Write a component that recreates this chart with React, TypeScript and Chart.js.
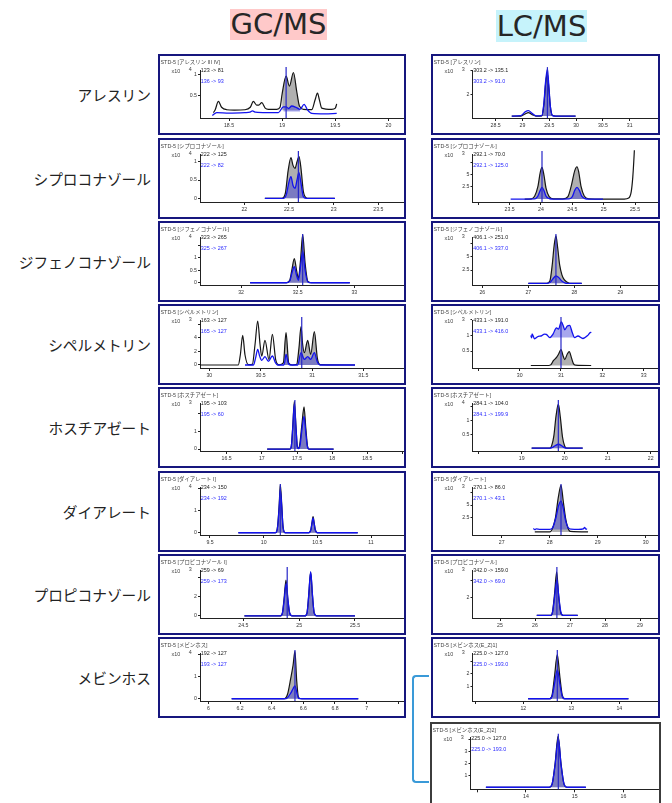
import React, { useEffect, useRef } from 'react';
import { Chart, registerables } from 'chart.js';

Chart.register(...registerables);

type Pt = [number, number];
type Tick = [number, string];

// ---------- row labels & texts ----------
const compoundNames = ['アレスリン', 'シプロコナゾール', 'ジフェノコナゾール', 'シペルメトリン', 'ホスチアゼート', 'ダイアレート', 'プロピコナゾール', 'メビンホス'];

const gcTitles = ['STD-5 [アレスリン III IV]', 'STD-5 [シプロコナゾール]', 'STD-5 [ジフェノコナゾール]', 'STD-5 [シペルメトリン]', 'STD-5 [ホスチアゼート]', 'STD-5 [ダイアレート I]', 'STD-5 [プロピコナゾール I]', 'STD-5 [メビンホス]'];
const gcExponents = ['4', '4', '4', '3', '3', '4', '3', '4'];
const gcLegendBlack = ['123 -> 81', '222 -> 125', '323 -> 265', '163 -> 127', '195 -> 103', '234 -> 150', '259 -> 69', '192 -> 127'];
const gcLegendBlue = ['136 -> 93', '222 -> 82', '325 -> 267', '165 -> 127', '195 -> 60', '234 -> 192', '259 -> 173', '193 -> 127'];
const gcRetention = [19.037, 22.605, 32.544, 30.9, 17.47, 10.155, 24.893, 6.547];

const lcTitles = ['STD-5 [アレスリン]', 'STD-5 [シプロコナゾール]', 'STD-5 [ジフェノコナゾール]', 'STD-5 [シペルメトリン]', 'STD-5 [ホスチアゼート]', 'STD-5 [ダイアレート]', 'STD-5 [プロピコナゾール]', 'STD-5 [メビンホス(E_Z)1]', 'STD-5 [メビンホス(E_Z)2]'];
const lcExponents = ['3', '3', '3', '3', '4', '3', '3', '3', '3'];
const lcLegendBlack = ['303.2 -> 135.1', '292.1 -> 70.0', '406.1 -> 251.0', '433.1 -> 191.0', '284.1 -> 104.0', '270.1 -> 86.0', '342.0 -> 159.0', '225.0 -> 127.0', '225.0 -> 127.0'];
const lcLegendBlue = ['303.2 -> 91.0', '292.1 -> 125.0', '406.1 -> 337.0', '433.1 -> 416.0', '284.1 -> 199.9', '270.1 -> 43.1', '342.0 -> 69.0', '225.0 -> 193.0', '225.0 -> 193.0'];
const lcRetention = [29.465, 24.016, 27.6, 31.0, 19.853, 28.236, 26.625, 12.708, 14.665];

// ---------- GC/MS data ----------
const gc1Black: Pt[] = [[18.353,0.09],[18.37,0.16],[18.40,0.36],[18.43,0.22],[18.478,0.16],[18.55,0.15],[18.65,0.16],[18.70,0.22],[18.729,0.36],[18.76,0.27],[18.78,0.27],[18.808,0.33],[18.84,0.2],[18.87,0.17],[18.95,0.17],[18.98,0.22],[19.0,0.55],[19.037,0.97],[19.068,0.73],[19.106,1.06],[19.137,0.6],[19.162,0.25],[19.2,0.17],[19.278,0.16],[19.31,0.4],[19.332,0.56],[19.35,0.4],[19.372,0.2],[19.466,0.17],[19.5,0.2],[19.513,0.3]];
const gc1Blue: Pt[] = [[18.343,0.02],[18.384,0.09],[18.5,0.08],[18.65,0.09],[18.698,0.1],[18.72,0.13],[18.75,0.1],[18.85,0.09],[18.964,0.09],[19.011,0.23],[19.037,0.23],[19.06,0.19],[19.09,0.25],[19.135,0.21],[19.168,0.17],[19.206,0.29],[19.24,0.15],[19.278,0.07],[19.4,0.06],[19.513,0.07]];
const gc1XTicks: Tick[] = [[18.5,'18.5'],[19,'19'],[19.5,'19.5'],[20,'20']];
const gc1YTicks: Tick[] = [[0.5,'0.5'],[1,'1']];

const gc2Black: Pt[] = [[22.23,0],[22.42,0],[22.46,0.15],[22.49,0.75],[22.522,1.11],[22.545,0.9],[22.567,0.82],[22.59,1.0],[22.612,1.14],[22.635,0.8],[22.66,0.2],[22.69,0.02],[22.72,0],[23.01,0]];
const gc2Blue: Pt[] = [[22.23,0],[22.44,0],[22.47,0.1],[22.50,0.45],[22.522,0.59],[22.545,0.35],[22.567,0.27],[22.59,0.5],[22.61,0.71],[22.635,0.4],[22.66,0.05],[22.69,0],[23.015,0]];
const gc2XTicks: Tick[] = [[22,'22'],[22.5,'22.5'],[23,'23'],[23.5,'23.5']];
const gc2YTicks: Tick[] = [[0,'0'],[0.5,'0.5'],[1,'1']];

const gc3Black: Pt[] = [[32.08,0],[32.40,0],[32.43,0.1],[32.45,0.55],[32.47,0.97],[32.49,0.5],[32.506,0.17],[32.525,0.9],[32.544,1.93],[32.565,0.8],[32.59,0.05],[32.62,0],[32.96,0]];
const gc3Blue: Pt[] = [[32.08,0],[32.40,0],[32.43,0.07],[32.45,0.4],[32.47,0.64],[32.49,0.3],[32.506,0.1],[32.525,0.65],[32.544,1.27],[32.565,0.5],[32.59,0.03],[32.62,0],[32.96,0]];
const gc3XTicks: Tick[] = [[32,'32'],[32.5,'32.5'],[33,'33']];
const gc3YTicks: Tick[] = [[0,'0'],[0.5,'0.5'],[1,'1'],[1.5,'']];

const gc4Black: Pt[] = [[29.909,0],[30.282,0],[30.302,1.5],[30.325,4.34],[30.347,1.5],[30.38,0.05],[30.419,0.1],[30.445,3.0],[30.471,6.44],[30.494,3.0],[30.51,1.3],[30.542,3.61],[30.581,0.8],[30.614,4.49],[30.646,0.8],[30.68,0.02],[30.721,0.3],[30.747,4.73],[30.773,0.3],[30.808,0],[30.851,0.1],[30.873,2.5],[30.893,5.61],[30.909,3.0],[30.925,1.8],[30.958,3.61],[30.987,1.56],[31.023,4.88],[31.052,1.0],[31.078,0.05],[31.419,0]];
const gc4Blue: Pt[] = [[30.347,0],[30.43,0],[30.45,1.0],[30.471,2.3],[30.49,1.3],[30.51,0.68],[30.542,1.22],[30.575,0.54],[30.614,1.32],[30.645,0.3],[30.665,0],[30.725,0],[30.735,0.5],[30.747,1.56],[30.77,0.2],[30.79,0],[30.86,0],[30.893,1.8],[30.925,0.83],[30.958,1.22],[30.987,0.83],[31.023,1.8],[31.05,0.5],[31.078,0],[31.419,0]];
const gc4XTicks: Tick[] = [[30,'30'],[30.5,'30.5'],[31,'31'],[31.5,'31.5']];
const gc4YTicks: Tick[] = [[0,'0'],[2,'2'],[4,'4'],[6,'']];

const gc5Black: Pt[] = [[17.076,0],[17.40,0],[17.42,0.2],[17.44,1.3],[17.462,2.7],[17.485,1.3],[17.505,0.15],[17.52,0.05],[17.54,0.3],[17.57,1.4],[17.60,2.38],[17.625,1.2],[17.65,0.15],[17.67,0],[18.02,0]];
const gc5Blue: Pt[] = [[17.076,0],[17.40,0],[17.42,0.18],[17.44,1.2],[17.462,2.55],[17.485,1.2],[17.505,0.1],[17.525,0.02],[17.545,0.25],[17.57,1.1],[17.60,1.85],[17.625,0.9],[17.65,0.1],[17.67,0],[18.02,0]];
const gc5XTicks: Tick[] = [[16.5,'16.5'],[17,'17'],[17.5,'17.5'],[18,'18'],[18.5,'18.5'],[19,'']];
const gc5YTicks: Tick[] = [[0,'0'],[1,'1'],[2,'']];

const gc6Black: Pt[] = [[9.764,0],[10.11,0],[10.13,0.3],[10.145,1.3],[10.155,2.16],[10.168,1.3],[10.18,0.3],[10.20,0],[10.42,0],[10.44,0.15],[10.45,0.45],[10.46,0.72],[10.47,0.45],[10.48,0.15],[10.50,0],[10.876,0]];
const gc6Blue: Pt[] = [[9.764,0],[10.11,0],[10.13,0.27],[10.145,1.17],[10.155,1.95],[10.168,1.17],[10.18,0.27],[10.20,0],[10.42,0],[10.44,0.14],[10.45,0.42],[10.46,0.67],[10.47,0.42],[10.48,0.14],[10.50,0],[10.876,0]];
const gc6XTicks: Tick[] = [[9.5,'9.5'],[10,'10'],[10.5,'10.5'],[11,'11']];
const gc6YTicks: Tick[] = [[0,'0'],[1,'1'],[2,'']];

const gc7Black: Pt[] = [[24.51,0],[24.83,0],[24.85,0.3],[24.865,1.8],[24.882,3.72],[24.898,1.8],[24.915,0.3],[24.94,0],[25.05,0],[25.07,0.3],[25.085,2.0],[25.103,4.55],[25.12,2.0],[25.135,0.3],[25.16,0],[25.5,0]];
const gc7Blue: Pt[] = [[24.51,0],[24.83,0],[24.85,0.28],[24.866,1.65],[24.884,3.38],[24.90,1.65],[24.916,0.28],[24.94,0],[25.05,0],[25.07,0.3],[25.085,2.05],[25.103,4.59],[25.12,2.05],[25.135,0.3],[25.16,0],[25.5,0]];
const gc7XTicks: Tick[] = [[24.5,'24.5'],[25,'25'],[25.5,'25.5']];
const gc7YTicks: Tick[] = [[0,'0'],[2,'2'],[4,'']];

const gc8Black: Pt[] = [[6.147,0],[6.48,0],[6.50,0.2],[6.52,0.9],[6.535,1.5],[6.547,2.12],[6.558,0.8],[6.57,0.05],[6.59,0],[6.947,0]];
const gc8Blue: Pt[] = [[6.147,0],[6.48,0],[6.50,0.05],[6.52,0.25],[6.535,0.45],[6.547,0.58],[6.558,0.3],[6.57,0.02],[6.59,0],[6.947,0]];
const gc8XTicks: Tick[] = [[6,'6'],[6.2,'6.2'],[6.4,'6.4'],[6.6,'6.6'],[6.8,'6.8'],[7,'7'],[7.2,'']];
const gc8YTicks: Tick[] = [[0,'0'],[1,'1'],[2,'']];

// ---------- LC/MS data ----------
const lc1Black: Pt[] = [[28.8,1.11],[28.97,1.11],[29.05,1.2],[29.11,1.25],[29.18,1.17],[29.25,1.11],[29.36,1.12],[29.40,1.6],[29.43,2.4],[29.462,2.86],[29.49,2.3],[29.52,1.5],[29.56,1.13],[29.62,1.11],[29.99,1.11]];
const lc1Blue: Pt[] = [[28.8,1.11],[28.97,1.13],[29.05,1.28],[29.11,1.33],[29.18,1.22],[29.25,1.12],[29.36,1.13],[29.40,1.65],[29.43,2.5],[29.465,3.02],[29.49,2.4],[29.52,1.5],[29.56,1.13],[29.62,1.11],[29.99,1.11]];
const lc1XTicks: Tick[] = [[28.5,'28.5'],[29,'29'],[29.5,'29.5'],[30,'30'],[30.5,'30.5'],[31,'31']];
const lc1YTicks: Tick[] = [[2,'2'],[3,'']];

const lc2Black: Pt[] = [[23.74,0],[23.85,0.05],[23.90,0.6],[23.95,2.5],[23.99,5.5],[24.016,6.42],[24.045,5.0],[24.08,2.2],[24.13,0.5],[24.2,0.05],[24.35,0.03],[24.43,0.5],[24.48,2.5],[24.54,5.8],[24.574,6.55],[24.60,5.6],[24.64,2.5],[24.69,0.6],[24.76,0.05],[25.0,0],[25.33,0],[25.40,0.2],[25.44,1.5],[25.465,4.5],[25.48,7.5],[25.49,9.9]];
const lc2Blue: Pt[] = [[23.516,0],[23.9,0.05],[23.95,0.6],[23.99,1.8],[24.016,2.36],[24.045,1.8],[24.08,0.6],[24.13,0.1],[24.2,0],[24.45,0.05],[24.50,0.5],[24.54,1.8],[24.574,2.36],[24.61,1.8],[24.65,0.6],[24.70,0.1],[24.76,0],[24.99,0]];
const lc2XTicks: Tick[] = [[23,''],[23.5,'23.5'],[24,'24'],[24.5,'24.5'],[25,'25'],[25.5,'25.5']];
const lc2YTicks: Tick[] = [[2.5,'2.5'],[5,'5'],[7.5,'']];

const lc3Black: Pt[] = [[27.0,0],[27.40,0],[27.47,0.5],[27.52,3.5],[27.56,7.0],[27.60,8.9],[27.64,6.5],[27.68,3.5],[27.73,1.6],[27.78,0.7],[27.85,0.2],[27.9,0],[28.16,0]];
const lc3Blue: Pt[] = [[27.0,0],[27.40,0],[27.47,0.15],[27.53,0.8],[27.60,1.375],[27.66,1.1],[27.72,0.5],[27.78,0.15],[27.85,0],[28.16,0]];
const lc3XTicks: Tick[] = [[26,'26'],[27,'27'],[28,'28'],[29,'29']];
const lc3YTicks: Tick[] = [[2.5,'2.5'],[5,'5'],[7.5,'']];

const lc4Black: Pt[] = [[30.27,0.04],[30.70,0.04],[30.75,0.06],[30.82,0.2],[30.887,0.29],[30.94,0.4],[31.0,0.55],[31.05,0.35],[31.09,0.23],[31.15,0.4],[31.2,0.48],[31.25,0.3],[31.30,0.1],[31.35,0.05],[31.73,0.04]];
const lc4Blue: Pt[] = [[30.27,1.0],[30.29,0.92],[30.30,1.05],[30.36,0.89],[30.45,0.97],[30.52,0.98],[30.60,1.04],[30.645,1.03],[30.73,0.93],[30.81,1.05],[30.89,1.24],[30.94,1.2],[31.008,1.43],[31.06,1.28],[31.09,1.18],[31.153,1.30],[31.21,1.32],[31.27,1.1],[31.33,0.93],[31.41,0.98],[31.53,0.9],[31.65,1.0],[31.70,1.08],[31.734,1.1]];
const lc4XTicks: Tick[] = [[29,''],[30,'30'],[31,'31'],[32,'32'],[33,'33']];
const lc4YTicks: Tick[] = [[0.5,'0.5'],[1,'1'],[1.5,'']];

const lc5Black: Pt[] = [[19.233,0],[19.66,0],[19.70,0.1],[19.75,0.45],[19.80,1.15],[19.853,1.57],[19.90,1.1],[19.95,0.4],[20.0,0.08],[20.05,0],[20.419,0]];
const lc5Blue: Pt[] = [[19.233,0],[19.65,0],[19.72,0.03],[19.79,0.1],[19.853,0.14],[19.92,0.1],[19.98,0.03],[20.05,0],[20.419,0]];
const lc5XTicks: Tick[] = [[18,''],[19,'19'],[20,'20'],[21,'21'],[22,'22']];
const lc5YTicks: Tick[] = [[0.5,'0.5'],[1,'1'],[1.5,'']];

const lc6Black: Pt[] = [[27.69,-0.3],[28.0,-0.3],[28.05,0.2],[28.12,2.5],[28.18,6.5],[28.236,8.9],[28.28,6.0],[28.33,2.5],[28.38,0.5],[28.43,-0.2],[28.80,-0.3]];
const lc6Blue: Pt[] = [[27.66,0.4],[27.69,0.15],[27.72,0.3],[27.80,0.2],[28.0,0.2],[28.06,0.5],[28.13,2.5],[28.19,5.0],[28.236,5.79],[28.28,4.5],[28.33,2.0],[28.39,0.5],[28.45,0.25],[28.6,0.2],[28.70,0.3],[28.73,0.6],[28.75,0.3],[28.78,0.25]];
const lc6XTicks: Tick[] = [[27,'27'],[28,'28'],[29,'29'],[30,'30']];
const lc6YTicks: Tick[] = [[2.5,'2.5'],[5,'5'],[7.5,'']];

const lc7Black: Pt[] = [[26.05,0],[26.45,0],[26.50,0.4],[26.56,2.5],[26.619,4.94],[26.67,2.5],[26.73,0.4],[26.80,0],[27.22,0]];
const lc7Blue: Pt[] = [[26.05,0],[26.45,0],[26.50,0.35],[26.56,2.1],[26.625,4.08],[26.68,2.1],[26.74,0.35],[26.80,0],[27.22,0]];
const lc7XTicks: Tick[] = [[25,'25'],[26,'26'],[27,'27'],[28,'28'],[29,'29']];
const lc7YTicks: Tick[] = [[2,'2'],[4,'']];

const lc8Black: Pt[] = [[12.1,0],[12.55,0],[12.6,0.3],[12.65,1.8],[12.708,3.53],[12.76,1.8],[12.81,0.3],[12.86,0],[14.19,0]];
const lc8Blue: Pt[] = [[12.1,0],[12.55,0],[12.6,0.2],[12.65,1.2],[12.71,2.33],[12.76,1.2],[12.81,0.2],[12.86,0],[14.19,0]];
const lc8XTicks: Tick[] = [[11,''],[12,'12'],[13,'13'],[14,'14']];
const lc8YTicks: Tick[] = [[1,'1'],[2,'2'],[3,'']];

const lc9Black: Pt[] = [[13.18,0],[14.48,0],[14.54,0.3],[14.60,2.0],[14.66,4.27],[14.72,2.0],[14.78,0.3],[14.84,0],[15.23,0]];
const lc9Blue: Pt[] = [[13.18,0],[14.48,0],[14.54,0.3],[14.60,1.9],[14.665,4.1],[14.72,1.9],[14.78,0.3],[14.84,0],[15.23,0]];
const lc9XTicks: Tick[] = [[13,''],[14,'14'],[15,'15'],[16,'16']];
const lc9YTicks: Tick[] = [[1,'1'],[2,'2'],[3,'3'],[4,'']];

// ---------- styles ----------
const FONT_SMALL = "'Liberation Sans', Arial, 'Noto Sans CJK JP', sans-serif";
const BLACK = '#151515';
const BLUE = '#1212ee';
const MARK = '#2626c8';
const GRAY_FILL = 'rgba(150,150,150,0.75)';
const BLUE_FILL = 'rgba(60,60,215,0.45)';
const AXIS = '#222';
const TICK_COLOR = '#333';
const NAVY = '#16167e';

interface PanelDef {
  left: number; top: number; w: number; h: number; border: string;
  title: string; exp: string; leg1: string; leg2: string;
  black: Pt[]; blue: Pt[]; xTicks: Tick[]; yTicks: Tick[];
  xMin: number; xMax: number; yMin: number; yMax: number; rt: number;
  fill: [number, number]; baseBlack: number; baseBlue: number;
  axisLeft: number; chartTop: number; chartBottom: number;
}

const rowTops = [54, 138, 221, 304, 387, 471, 554, 637];

const gcSeries: [Pt[], Pt[], Tick[], Tick[]][] = [
  [gc1Black, gc1Blue, gc1XTicks, gc1YTicks],
  [gc2Black, gc2Blue, gc2XTicks, gc2YTicks],
  [gc3Black, gc3Blue, gc3XTicks, gc3YTicks],
  [gc4Black, gc4Blue, gc4XTicks, gc4YTicks],
  [gc5Black, gc5Blue, gc5XTicks, gc5YTicks],
  [gc6Black, gc6Blue, gc6XTicks, gc6YTicks],
  [gc7Black, gc7Blue, gc7XTicks, gc7YTicks],
  [gc8Black, gc8Blue, gc8XTicks, gc8YTicks],
];
// axis ranges: [xMin, xMax, yMin, yMax]
const gcRanges = [
  [18.227, 20.146, -0.04, 1.12],
  [21.504, 23.787, -0.10, 1.21],
  [31.638, 33.438, -0.09, 1.83],
  [29.909, 31.896, -0.44, 6.59],
  [16.121, 19.021, -0.11, 2.6],
  [9.407, 11.307, -0.10, 2.05],
  [24.112, 25.939, -0.21, 4.76],
  [5.947, 7.236, -0.10, 2.05],
];
// integrated regions: [from, to, black baseline, blue baseline]
const gcFills = [
  [18.99, 19.17, 0.15, 0.12],
  [22.42, 22.70, 0, 0],
  [32.40, 32.62, 0, 0],
  [30.70, 31.08, 0, 0],
  [17.40, 17.67, 0, 0],
  [10.10, 10.51, 0, 0],
  [24.83, 25.16, 0, 0],
  [6.48, 6.59, 0, 0],
];

const lcSeries: [Pt[], Pt[], Tick[], Tick[]][] = [
  [lc1Black, lc1Blue, lc1XTicks, lc1YTicks],
  [lc2Black, lc2Blue, lc2XTicks, lc2YTicks],
  [lc3Black, lc3Blue, lc3XTicks, lc3YTicks],
  [lc4Black, lc4Blue, lc4XTicks, lc4YTicks],
  [lc5Black, lc5Blue, lc5XTicks, lc5YTicks],
  [lc6Black, lc6Blue, lc6XTicks, lc6YTicks],
  [lc7Black, lc7Blue, lc7XTicks, lc7YTicks],
  [lc8Black, lc8Blue, lc8XTicks, lc8YTicks],
  [lc9Black, lc9Blue, lc9XTicks, lc9YTicks],
];
const lcRanges = [
  [28.068, 31.527, 1.03, 3.0],
  [22.907, 25.867, -0.6, 9.13],
  [25.786, 29.819, -0.31, 8.69],
  [28.859, 33.347, -0.04, 1.49],
  [17.857, 22.171, -0.10, 1.61],
  [26.392, 30.257, -0.9, 8.56],
  [24.214, 29.514, -0.3, 5.14],
  [10.941, 14.806, -0.18, 3.66],
  [12.864, 16.73, -0.17, 4.19],
];
const lcFills = [
  [29.36, 29.56, 1.11, 1.11],
  [23.85, 24.78, 0, 0],
  [27.45, 27.90, 0, 0],
  [30.72, 31.35, 0.04, 0.93],
  [19.66, 20.05, 0, 0],
  [28.02, 28.43, -0.3, 0.2],
  [26.45, 26.80, 0, 0],
  [12.55, 12.86, 0, 0],
  [14.48, 14.84, 0, 0],
];

const panels: PanelDef[] = [];
gcSeries.forEach((s, i) => {
  const r = gcRanges[i], f = gcFills[i];
  panels.push({
    left: 158, top: rowTops[i], w: 248, h: 81, border: NAVY,
    title: gcTitles[i], exp: gcExponents[i], leg1: gcLegendBlack[i], leg2: gcLegendBlue[i],
    black: s[0], blue: s[1], xTicks: s[2], yTicks: s[3],
    xMin: r[0], xMax: r[1], yMin: r[2], yMax: r[3], rt: gcRetention[i],
    fill: [f[0], f[1]], baseBlack: f[2], baseBlue: f[3],
    axisLeft: 40, chartTop: 14, chartBottom: 62,
  });
});
lcSeries.forEach((s, i) => {
  const r = lcRanges[i], f = lcFills[i];
  const extra = i === 8;
  panels.push({
    left: extra ? 430 : 431, top: extra ? 722 : rowTops[i], w: extra ? 231 : 229, h: extra ? 90 : 81,
    border: extra ? '#3c3c3c' : NAVY,
    title: lcTitles[i], exp: lcExponents[i], leg1: lcLegendBlack[i], leg2: lcLegendBlue[i],
    black: s[0], blue: s[1], xTicks: s[2], yTicks: s[3],
    xMin: r[0], xMax: r[1], yMin: r[2], yMax: r[3], rt: lcRetention[i],
    fill: [f[0], f[1]], baseBlack: f[2], baseBlue: f[3],
    axisLeft: extra ? 38.5 : 39.5, chartTop: extra ? 13 : 14, chartBottom: extra ? 65.3 : 62,
  });
});

const tickLabel = (ticks: Tick[], v: number) => {
  const t = ticks.find(([tv]) => Math.abs(tv - v) < 1e-6);
  return t ? t[1] : '';
};

function ChromPanel({ def }: { def: PanelDef }) {
  const ref = useRef<HTMLCanvasElement | null>(null);
  const cw = def.w - 4;
  const ch = def.h - 4;
  useEffect(() => {
    const canvas = ref.current;
    if (!canvas) return;
    const toXY = (pts: Pt[]) => pts.map(([x, y]) => ({ x, y }));
    const inRange = (pts: Pt[]) => toXY(pts.filter(([x]) => x >= def.fill[0] && x <= def.fill[1]));
    const span = def.yMax - def.yMin;
    const base = { pointRadius: 0, cubicInterpolationMode: 'monotone' as const, tension: 0.3, clip: false as const };
    const tickFont = { size: 5.2, family: FONT_SMALL };
    const chart = new Chart(canvas, {
      type: 'line',
      data: {
        datasets: [
          { ...base, data: inRange(def.black), borderWidth: 1, borderColor: 'rgba(0,0,0,0)', backgroundColor: GRAY_FILL, fill: { value: def.baseBlack }, order: 5 },
          { ...base, data: inRange(def.blue), borderWidth: 1, borderColor: 'rgba(0,0,0,0)', backgroundColor: BLUE_FILL, fill: { value: def.baseBlue }, order: 4 },
          { ...base, data: toXY(def.black), borderColor: BLACK, borderWidth: 1.2, fill: false, order: 3 },
          { ...base, data: toXY(def.blue), borderColor: BLUE, borderWidth: 1.3, fill: false, order: 2 },
          { data: [{ x: def.rt, y: def.yMin }, { x: def.rt, y: def.yMax + span * 0.06 }], borderColor: MARK, borderWidth: 1.2, pointRadius: 0, tension: 0, fill: false, clip: false, order: 1 },
        ],
      } as any,
      options: {
        animation: false,
        responsive: false,
        maintainAspectRatio: false,
        devicePixelRatio: 1,
        events: [],
        layout: { padding: { top: def.chartTop, left: 0, right: 0, bottom: 0 } },
        plugins: { legend: { display: false }, tooltip: { enabled: false }, title: { display: false } },
        scales: {
          x: {
            type: 'linear', min: def.xMin, max: def.xMax,
            afterBuildTicks: (s: any) => { s.ticks = def.xTicks.map(([v]) => ({ value: v })); },
            afterFit: (s: any) => { s.height = ch - def.chartBottom; s.paddingLeft = 0; s.paddingRight = 0; },
            ticks: { autoSkip: false, maxRotation: 0, minRotation: 0, padding: 1, color: TICK_COLOR, font: tickFont, callback: (v: any) => tickLabel(def.xTicks, Number(v)) },
            grid: { drawOnChartArea: false, drawTicks: true, tickLength: 3, color: AXIS, lineWidth: 1 },
            border: { display: true, color: AXIS, width: 1 },
          },
          y: {
            type: 'linear', min: def.yMin, max: def.yMax,
            afterBuildTicks: (s: any) => { s.ticks = def.yTicks.map(([v]) => ({ value: v })); },
            afterFit: (s: any) => { s.width = def.axisLeft; s.paddingTop = 0; s.paddingBottom = 0; },
            ticks: { autoSkip: false, padding: 1, color: TICK_COLOR, font: tickFont, callback: (v: any) => tickLabel(def.yTicks, Number(v)) },
            grid: { drawOnChartArea: false, drawTicks: true, tickLength: 2, color: AXIS, lineWidth: 1 },
            border: { display: true, color: AXIS, width: 1 },
          },
        },
      } as any,
    });
    return () => chart.destroy();
  }, [def]);

  const small: React.CSSProperties = { position: 'absolute', fontSize: '5.4px', lineHeight: '6px', whiteSpace: 'nowrap', fontFamily: FONT_SMALL };
  return (
    <div style={{ position: 'absolute', left: def.left, top: def.top, width: def.w, height: def.h, boxSizing: 'border-box', border: `2px solid ${def.border}`, background: '#fff' }}>
      <canvas ref={ref} width={cw} height={ch} style={{ position: 'absolute', left: 0, top: 0, width: cw, height: ch }} />
      <div style={{ ...small, left: 0.5, top: 2.5, color: '#444' }}>{def.title}</div>
      <div style={{ ...small, left: 11.5, top: 11.7, color: '#444' }}>x10</div>
      <div style={{ ...small, left: 28.8, top: 10.2, color: '#444' }}>{def.exp}</div>
      <div style={{ ...small, left: def.axisLeft + 0.8, top: 11, color: '#222' }}>{def.leg1}</div>
      <div style={{ ...small, left: def.axisLeft + 0.8, top: 22, color: '#2a2aff' }}>{def.leg2}</div>
    </div>
  );
}

export default function App() {
  return (
    <div style={{ position: 'fixed', left: 0, top: 0, width: 672, height: 803, overflow: 'hidden', background: '#fff' }}>
      <div style={{ position: 'absolute', left: 230, top: 9, width: 97, height: 31, background: '#ffc9c9', color: '#262626', fontFamily: "'DejaVu Sans', sans-serif", fontSize: 29, lineHeight: '31px', textAlign: 'center' }}>GC/MS</div>
      <div style={{ position: 'absolute', left: 496, top: 10, width: 91, height: 32, background: '#c6f3fb', color: '#262626', fontFamily: "'DejaVu Sans', sans-serif", fontSize: 29, lineHeight: '32px', textAlign: 'center' }}>LC/MS</div>
      {compoundNames.map((n, i) => (
        <div key={n} style={{ position: 'absolute', left: 0, width: 151, top: rowTops[i] + 40.5 - 11, height: 22, lineHeight: '22px', textAlign: 'right', fontFamily: "'Noto Sans CJK JP', sans-serif", fontSize: 14.7, color: '#222', whiteSpace: 'nowrap' }}>{n}</div>
      ))}
      {panels.map((p, i) => <ChromPanel key={i} def={p} />)}
      <div style={{ position: 'absolute', left: 412, top: 675, width: 17, height: 108, boxSizing: 'border-box', borderLeft: '2px solid #3a9ad8', borderTop: '2px solid #3a9ad8', borderBottom: '2px solid #3a9ad8', borderRadius: '4px 0 0 4px' }} />
    </div>
  );
}
